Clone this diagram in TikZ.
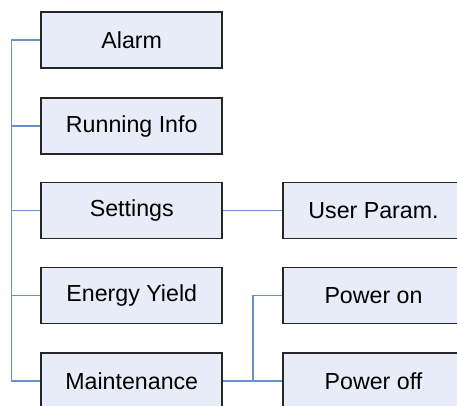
\documentclass[tikz,border=0pt]{standalone}
\usepackage{fontspec}
\setmainfont{Liberation Sans}
\begin{document}
\begin{tikzpicture}[x=1pt,y=-1pt,
  menubox/.style={draw=black!85, line width=1.6pt, fill=boxfill, minimum width=181pt, minimum height=56pt, inner sep=0pt, font=\fontsize{23.2}{27}\selectfont},
  link/.style={draw=linkblue, line width=1.5pt}]
\definecolor{boxfill}{HTML}{E7ECF8}
\definecolor{linkblue}{HTML}{6A90CC}
\useasboundingbox (0,0) rectangle (457,405);
\node[menubox] (alarm) at (131.75,40) {Alarm};
\node[menubox] (run) at (131.75,126) {Running Info};
\node[menubox] (set) at (131.75,210.5) {Settings};
\node[menubox] (energy) at (131.75,295.5) {Energy Yield};
\node[menubox] (maint) at (131.75,381) {Maintenance};
\node[menubox] (user) at (373.5,210.5) {User Param.};
\node[menubox] (pon) at (373.5,295.5) {Power on};
\node[menubox] (poff) at (373.5,381) {Power off};
\coordinate (top) at (11.5,40);
\coordinate (bot) at (11.5,381);
\coordinate (j) at (253,381);
\draw[link] (alarm.west) -- (top) -- (bot) -- (maint.west);
\draw[link] (run.west) -- (11.5,126);
\draw[link] (set.west) -- (11.5,210.5);
\draw[link] (energy.west) -- (11.5,295.5);
\draw[link] (set.east) -- (user.west);
\draw[link] (maint.east) -- (poff.west);
\draw[link] (j) |- (pon.west);
\end{tikzpicture}
\end{document}
